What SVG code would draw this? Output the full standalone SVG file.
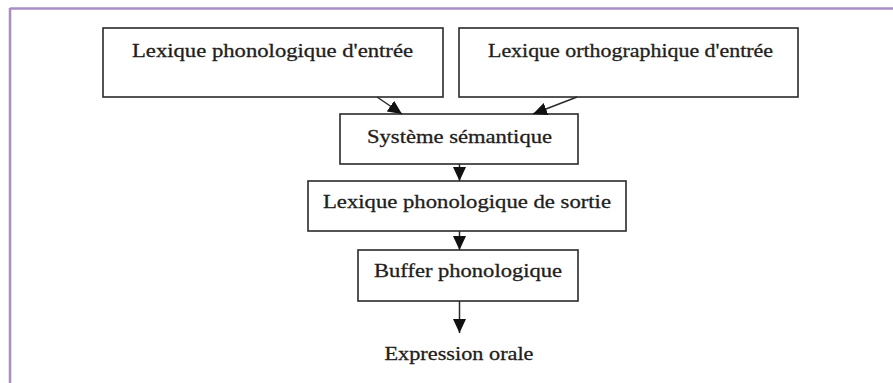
<svg xmlns="http://www.w3.org/2000/svg" width="893" height="383" viewBox="0 0 893 383">
<style>
.box{fill:#fff;stroke:#2a2a2a;stroke-width:1.6}
.t{font-family:"Liberation Serif","Times New Roman",serif;font-size:18.5px;fill:#1e1e1e;stroke:#1e1e1e;stroke-width:0.3;text-anchor:middle}
.c{stroke:#2a2a2a;stroke-width:1.5;fill:none}
</style>
<defs>
<marker id="ah" markerUnits="userSpaceOnUse" markerWidth="16" markerHeight="16" refX="14" refY="7" orient="auto">
<path d="M0,0.5 L14,7 L0,13.5 z" fill="#111"/>
</marker>
</defs>
<rect x="0" y="0" width="893" height="383" fill="#fff"/>
<g id="frame">
<line x1="10" y1="8.5" x2="893" y2="8.5" stroke="#a88dc6" stroke-width="2.5"/>
<line x1="10" y1="8" x2="10" y2="383" stroke="#a88dc6" stroke-width="2.5"/>
</g>
<g id="n1"><rect class="box" x="103" y="28" width="340" height="69"/><text class="t" x="272.5" y="57" textLength="281" lengthAdjust="spacingAndGlyphs">Lexique phonologique d'entrée</text></g>
<g id="n2"><rect class="box" x="459" y="28" width="339" height="69"/><text class="t" x="630.5" y="57" textLength="285" lengthAdjust="spacingAndGlyphs">Lexique orthographique d'entrée</text></g>
<g id="n3"><rect class="box" x="340" y="114" width="238" height="50"/><text class="t" x="459.5" y="143" textLength="185" lengthAdjust="spacingAndGlyphs">Système sémantique</text></g>
<g id="n4"><rect class="box" x="308" y="181" width="318" height="50"/><text class="t" x="467" y="208" textLength="288" lengthAdjust="spacingAndGlyphs">Lexique phonologique de sortie</text></g>
<g id="n5"><rect class="box" x="358" y="250" width="220" height="51"/><text class="t" x="468" y="277" textLength="188" lengthAdjust="spacingAndGlyphs">Buffer phonologique</text></g>
<g id="n6"><text class="t" x="459" y="360" textLength="149" lengthAdjust="spacingAndGlyphs">Expression orale</text></g>
<g id="connectors">
<line class="c" x1="377" y1="97" x2="402" y2="114" marker-end="url(#ah)"/>
<line class="c" x1="577" y1="97" x2="533" y2="114" marker-end="url(#ah)"/>
<line class="c" x1="459.5" y1="164" x2="459.5" y2="181" marker-end="url(#ah)"/>
<line class="c" x1="459.5" y1="231" x2="459.5" y2="250" marker-end="url(#ah)"/>
<line class="c" x1="459.5" y1="301" x2="459.5" y2="333" marker-end="url(#ah)"/>
</g>
</svg>
